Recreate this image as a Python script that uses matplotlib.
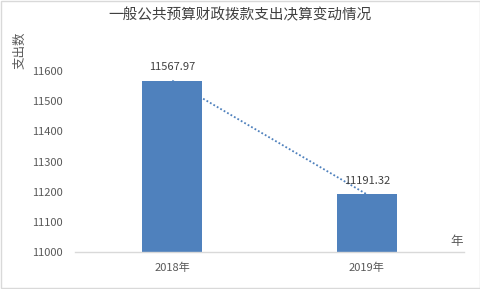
import matplotlib.pyplot as plt
from matplotlib.patches import Rectangle

plt.rcParams["font.family"] = ["Noto Sans CJK SC", "DejaVu Sans"]

# Data
years = ["2018年", "2019年"]
spending = [11567.97, 11191.32]
value_labels = ["11567.97", "11191.32"]
y_ticks = [11000, 11100, 11200, 11300, 11400, 11500, 11600]

bar_color = "#4F81BD"
text_color = "#595959"

fig = plt.figure(figsize=(4.81, 2.89), dpi=100)
ax = fig.add_axes([75 / 481, 1 - 252 / 289, 389 / 481, 181 / 289])

x = list(range(len(years)))
ax.bar(x, [v - y_ticks[0] for v in spending], bottom=y_ticks[0],
       width=0.31, color=bar_color, zorder=2)
# Dotted trend line between the bar tops
ax.plot(x, spending, linestyle=(0, (1, 1.2)), color=bar_color, linewidth=1.3, zorder=3)

for xi, v, lbl in zip(x, spending, value_labels):
    ax.annotate(lbl, (xi, v), xytext=(0, 6), textcoords="offset points",
                ha="center", va="bottom", fontsize=8, color="#404040",
                annotation_clip=False, zorder=4)

ax.set_xlim(-0.5, 1.5)
ax.set_ylim(y_ticks[0], y_ticks[-1])
ax.set_xticks(x)
ax.set_xticklabels(years, fontsize=8, color=text_color)
ax.set_yticks(y_ticks)
ax.set_yticklabels([str(t) for t in y_ticks], fontsize=8, color=text_color)
ax.tick_params(axis="both", length=0)
ax.tick_params(axis="x", pad=8)
ax.tick_params(axis="y", pad=9)
for side in ["top", "right", "left"]:
    ax.spines[side].set_visible(False)
ax.spines["bottom"].set_color("#D9D9D9")
ax.spines["bottom"].set_linewidth(1.0)

# Axis titles and chart title
fig.text(457 / 481, 1 - 241 / 289, "年", fontsize=9, color=text_color,
         ha="center", va="center")
fig.text(20 / 481, 1 - 50 / 289, "支出数", fontsize=9, color=text_color,
         rotation=90, ha="center", va="center")
fig.text(240 / 481, 1 - 15 / 289, "一般公共预算财政拨款支出决算变动情况",
         fontsize=10.5, color="#404040", ha="center", va="center")

# Light border around the whole chart
fig.patches.append(Rectangle((0.002, 0.003), 0.996, 0.994, transform=fig.transFigure,
                             fill=False, edgecolor="#D9D9D9", linewidth=1.0))

fig.savefig("out.png", dpi=100)
